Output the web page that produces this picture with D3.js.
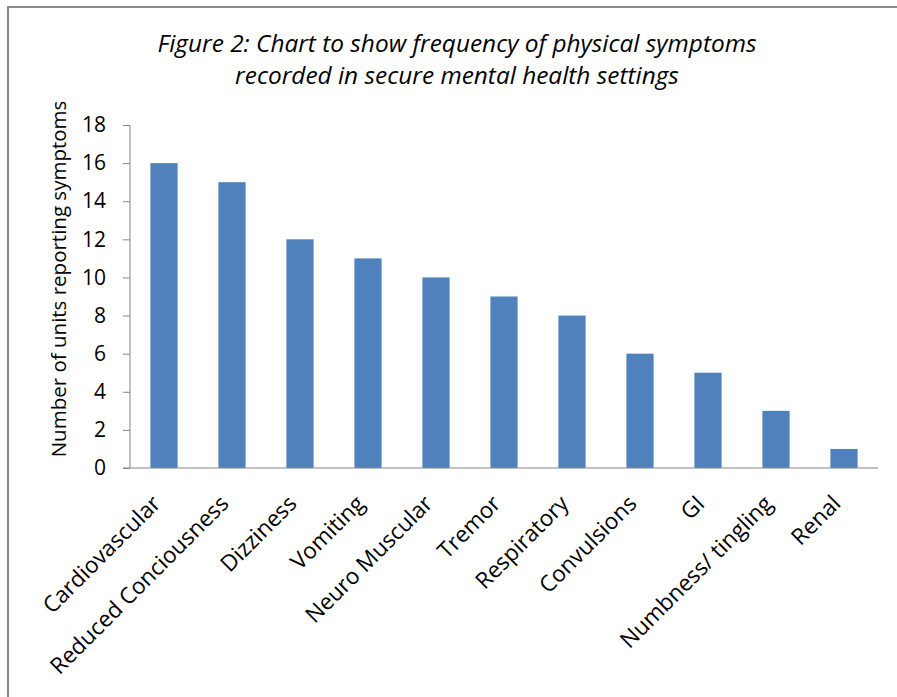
<!DOCTYPE html>
<html>
<head>
<meta charset="utf-8">
<script src="https://cdn.jsdelivr.net/npm/d3@7"></script>
<style>
  body { margin: 0; background: #fff; }
  text { font-family: "Open Sans", sans-serif; fill: #000; }
  .axis path, .axis line { stroke: #868686; }
</style>
</head>
<body>
<div id="chart"></div>
<script>
var width = 897, height = 697;
var margin = { top: 125, right: 19, bottom: 229, left: 130 };

var categories = ['Cardiovascular', 'Reduced Conciousness', 'Dizziness', 'Vomiting', 'Neuro Muscular',
  'Tremor', 'Respiratory', 'Convulsions', 'GI', 'Numbness/ tingling', 'Renal'];
var values = [16, 15, 12, 11, 10, 9, 8, 6, 5, 3, 1];
var yTicks = [0, 2, 4, 6, 8, 10, 12, 14, 16, 18];
var titleLines = ['Figure 2: Chart to show frequency of physical symptoms',
  'recorded in secure mental health settings'];
var yLabel = 'Number of units reporting symptoms';

var svg = d3.select('#chart')
  .append('svg')
  .attr('width', width)
  .attr('height', height);

// outer frame (left and top edges visible)
svg.append('path')
  .attr('d', 'M8,' + height + 'V7H' + width)
  .attr('fill', 'none')
  .attr('stroke', '#8c8c8c')
  .attr('stroke-width', 2);

var xScale = d3.scaleBand()
  .domain(categories)
  .range([margin.left, width - margin.right])
  .paddingInner(0.6)
  .paddingOuter(0.3);

var yScale = d3.scaleLinear()
  .domain([0, 18])
  .range([height - margin.bottom, margin.top]);

svg.selectAll('.bar')
  .data(values)
  .enter()
  .append('rect')
  .attr('class', 'bar')
  .attr('x', function (d, i) { return xScale(categories[i]); })
  .attr('y', function (d) { return yScale(d); })
  .attr('width', xScale.bandwidth())
  .attr('height', function (d) { return yScale(0) - yScale(d); })
  .attr('fill', '#4f81bd');

var yAxis = d3.axisLeft(yScale).tickValues(yTicks).tickSize(7).tickPadding(17);
var yAxisG = svg.append('g')
  .attr('class', 'axis')
  .attr('transform', 'translate(' + margin.left + ',0)')
  .call(yAxis);
yAxisG.select('.domain').attr('d', 'M0,' + yScale(18) + 'V' + yScale(0));
yAxisG.selectAll('text').style('font-size', '21px');

var xAxisG = svg.append('g')
  .attr('class', 'axis')
  .attr('transform', 'translate(0,' + yScale(0) + ')');
xAxisG.append('line')
  .attr('x1', margin.left - 7)
  .attr('x2', width - margin.right)
  .attr('stroke', '#868686');

xAxisG.selectAll('.xlab')
  .data(categories)
  .enter()
  .append('text')
  .attr('class', 'xlab')
  .attr('text-anchor', 'end')
  .style('font-size', '22.5px')
  .attr('transform', function (d) {
    return 'translate(' + (xScale(d) + xScale.bandwidth() / 2 - 2) + ',37) rotate(-45)';
  })
  .text(function (d) { return d; });

svg.selectAll('.title')
  .data(titleLines)
  .enter()
  .append('text')
  .attr('class', 'title')
  .attr('x', 457)
  .attr('y', function (d, i) { return 52 + i * 32; })
  .attr('text-anchor', 'middle')
  .style('font-size', '24.4px')
  .style('font-style', 'italic')
  .text(function (d) { return d; });

svg.append('text')
  .attr('transform', 'translate(66,279) rotate(-90)')
  .attr('text-anchor', 'middle')
  .style('font-size', '20.5px')
  .text(yLabel);
</script>
</body>
</html>
